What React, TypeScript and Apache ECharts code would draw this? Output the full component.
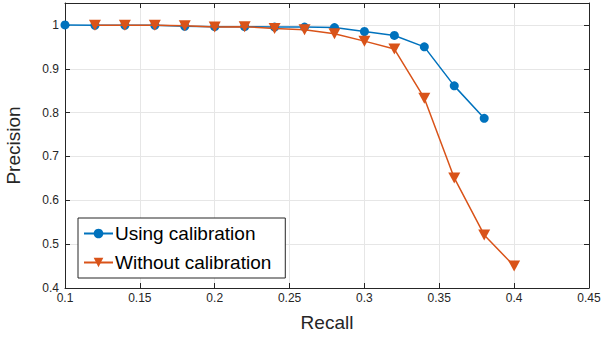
import React, { useEffect, useRef } from "react";
import * as echarts from "echarts";

const recall = [0.1, 0.12, 0.14, 0.16, 0.18, 0.2, 0.22, 0.24, 0.26, 0.28, 0.3, 0.32, 0.34, 0.36, 0.38, 0.4];
const usingCalibration = [1.0, 0.999, 0.999, 0.999, 0.997, 0.996, 0.996, 0.995, 0.995, 0.994, 0.985, 0.976, 0.95, 0.861, 0.787];
const withoutRecall = [0.12, 0.14, 0.16, 0.18, 0.2, 0.22, 0.24, 0.26, 0.28, 0.3, 0.32, 0.34, 0.36, 0.38, 0.4];
const withoutCalibration = [0.999, 0.999, 0.999, 0.998, 0.995, 0.996, 0.992, 0.989, 0.98, 0.963, 0.945, 0.833, 0.651, 0.521, 0.45];
const seriesNames = ["Using calibration", "Without calibration"];

const FONT = "'Liberation Sans', Arial, Helvetica, sans-serif";
const AX = "#262626";
const tri = "path://M0,0 L10,0 L5,9 Z";

export default function App() {
  const ref = useRef<HTMLDivElement>(null);
  useEffect(() => {
    const chart = echarts.init(ref.current!, null, { renderer: "svg" });
    const fmt = (v: number) => String(+v.toFixed(2));
    const common = {
      axisLine: { show: true, lineStyle: { color: AX, width: 1 } },
      axisTick: { show: true, inside: true, length: 5, lineStyle: { color: AX } },
    };
    chart.setOption({
      animation: false,
      backgroundColor: "#fff",
      textStyle: { fontFamily: FONT },
      grid: { left: 65, right: 12, top: 3, bottom: 50, containLabel: false, outerBoundsMode: "none" },
      legend: {
        orient: "vertical",
        left: 78,
        top: 218,
        data: seriesNames,
        padding: [5, 14, 5, 5],
        itemGap: 8,
        itemWidth: 29,
        itemHeight: 12,
        backgroundColor: "#fff",
        borderColor: AX,
        borderWidth: 1,
        borderRadius: 0,
        textStyle: { fontSize: 19, color: "#000", fontFamily: FONT, lineHeight: 21, padding: [0, 0, 0, -3] },
      },
      xAxis: [
        {
          type: "value",
          min: 0.1,
          max: 0.45,
          interval: 0.05,
          name: "Recall",
          nameLocation: "middle",
          nameGap: 25,
          nameTextStyle: { fontSize: 19, color: AX, fontFamily: FONT },
          ...common,
          axisLabel: { fontSize: 12, color: AX, margin: 4, formatter: fmt, fontFamily: FONT },
          splitLine: { show: true, lineStyle: { color: "#e6e6e6", width: 1 } },
        },
        {
          type: "value",
          position: "top",
          min: 0.1,
          max: 0.45,
          interval: 0.05,
          ...common,
          axisLabel: { show: false },
          splitLine: { show: false },
        },
      ],
      yAxis: [
        {
          type: "value",
          min: 0.4,
          max: 1.05,
          interval: 0.1,
          name: "Precision",
          nameLocation: "middle",
          nameGap: 42,
          nameTextStyle: { fontSize: 19, color: AX, fontFamily: FONT },
          ...common,
          axisLabel: { fontSize: 12, color: AX, margin: 6, formatter: fmt, showMaxLabel: false, fontFamily: FONT },
          splitLine: { show: true, lineStyle: { color: "#e6e6e6", width: 1 } },
        },
        {
          type: "value",
          position: "right",
          min: 0.4,
          max: 1.05,
          interval: 0.1,
          ...common,
          axisLabel: { show: false },
          splitLine: { show: false },
        },
      ],
      series: [
        {
          name: seriesNames[0],
          type: "line",
          data: usingCalibration.map((v, i) => [recall[i], v]),
          symbol: "circle",
          symbolSize: 9,
          color: "#0072BD",
          lineStyle: { width: 1.5, color: "#0072BD" },
          itemStyle: { color: "#0072BD" },
          z: 3,
        },
        {
          name: seriesNames[1],
          type: "line",
          data: withoutCalibration.map((v, i) => [withoutRecall[i], v]),
          symbol: tri,
          symbolSize: [12, 11],
          color: "#D95319",
          lineStyle: { width: 1.5, color: "#D95319" },
          itemStyle: { color: "#D95319" },
          z: 4,
        },
      ],
    });
    return () => chart.dispose();
  }, []);
  return <div ref={ref} style={{ width: 601, height: 338, position: "absolute", left: 0, top: 0 }} />;
}
